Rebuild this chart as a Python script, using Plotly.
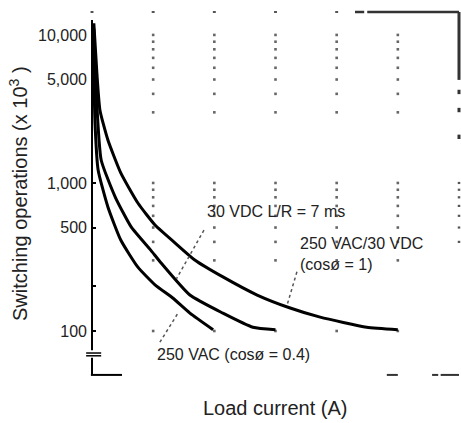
import math
import plotly.graph_objects as go

# ---------------- data ----------------
current_cos1 = [0.03, 0.08, 0.13, 0.26, 0.47, 0.75, 1.03, 1.36, 1.68, 2.14, 2.70, 3.24, 3.73, 4.49, 5.0]
ops_cos1 = [12000, 5500, 3100, 1950, 1170, 732, 520, 393, 302, 232, 175, 143, 124, 106, 102]

current_dc = [0.03, 0.07, 0.15, 0.38, 0.64, 0.96, 1.13, 1.60, 2.14, 2.63, 3.0]
ops_dc = [11000, 4000, 1430, 803, 505, 352, 288, 175, 132, 106, 102]

current_ac04 = [0.02, 0.05, 0.10, 0.26, 0.47, 0.75, 1.03, 1.32, 1.60, 1.98]
ops_ac04 = [9000, 2500, 1225, 689, 412, 270, 205, 167, 132, 102]

y_tick_vals = [100, 500, 1000, 5000, 10000]
y_tick_text = ["100", "500", "1,000", "5,000", "10,000"]
y_minor_vals = [200]

grid_cols = [1, 2, 3, 4, 5]
grid_rows = [10000, 9000, 8000, 7000, 6000, 5000, 4000, 3000,
             1000, 900, 800, 700, 600, 500, 400, 300, 100]

X_MIN, X_MAX = 0, 6
Y_MIN, Y_MAX = 1.696, 4.155

FONT = "Arial, Liberation Sans, sans-serif"
TXT = "#222222"


def xp(a):
    return (a - X_MIN) / (X_MAX - X_MIN)


def yp(v):
    return (math.log10(v) - Y_MIN) / (Y_MAX - Y_MIN)


fig = go.Figure()

# grid intersection dots (degraded dotted grid)
gx, gy = [], []
for c in grid_cols:
    for r in grid_rows:
        gx.append(c)
        gy.append(r)
fig.add_trace(go.Scatter(x=gx, y=gy, mode="markers",
                         marker=dict(symbol="square", size=2.6, color="#666666"),
                         hoverinfo="skip", showlegend=False, cliponaxis=False))

for xs, ys in [(current_cos1, ops_cos1), (current_dc, ops_dc), (current_ac04, ops_ac04)]:
    fig.add_trace(go.Scatter(x=xs, y=ys, mode="lines",
                             line=dict(color="black", width=3, shape="spline", smoothing=0.5),
                             hoverinfo="skip", showlegend=False))

shapes = []
line_k = dict(color="black", width=2)


def seg(x0, y0, x1, y1, **kw):
    d = dict(type="line", xref="paper", yref="paper", x0=x0, y0=y0, x1=x1, y1=y1,
             line=kw.get("line", line_k), layer="above")
    shapes.append(d)


# left axis with break
seg(xp(0), yp(12600), xp(0), yp(74))
seg(-0.016, yp(71), xp(0.15), yp(71), line=dict(color="black", width=1.5))
seg(-0.016, yp(68), xp(0.15), yp(68), line=dict(color="black", width=1.5))
seg(xp(0), yp(66), xp(0), yp(50.5))
seg(xp(0) - 0.003, yp(50.5), xp(0.49), yp(50.5))

# top-right border
top = yp(10 ** Y_MAX)
for c in [0, 1, 2, 3, 4]:
    seg(xp(c) - 0.004, top, xp(c) + 0.004, top, line=dict(color="#555555", width=2))
seg(xp(4.3), top, xp(4.45), top, line=dict(color="#333333", width=2.5))
seg(xp(4.5), top, xp(6), top, line=dict(color="#333333", width=2.5))
seg(xp(6), top, xp(6), yp(4970), line=dict(color="#333333", width=3))
for v in [4120, 3110, 2050]:
    seg(xp(6), yp(v) + 0.006, xp(6), yp(v) - 0.006, line=dict(color="#333333", width=3))
for v in [1000, 900, 800, 700, 600, 500, 400]:
    seg(xp(6), yp(v) + 0.003, xp(6), yp(v) - 0.003, line=dict(color="#555555", width=2.5))
# bottom-right dashes
seg(xp(4.82), yp(50.5), xp(5.0), yp(50.5), line=dict(color="#333333", width=2))
seg(xp(5.56), yp(50.5), xp(5.66), yp(50.5), line=dict(color="#333333", width=2))
seg(xp(5.7), yp(50.5), xp(6.0), yp(50.5), line=dict(color="#333333", width=2))

# dotted leader lines
lead = dict(color="#555555", width=1.5, dash="dot")
seg(xp(1.83), yp(480), xp(1.38), yp(225), line=lead)
seg(xp(3.35), yp(251), xp(3.19), yp(150), line=lead)
seg(xp(1.11), yp(84), xp(1.42), yp(135), line=lead)

annotations = [
    dict(text="30 VDC L/R = 7 ms", x=1.85, y=math.log10(637), xref="x", yref="y",
         xanchor="left", yanchor="middle", showarrow=False,
         font=dict(family=FONT, size=16, color=TXT)),
    dict(text="250 VAC/30 VDC<br>(cosø = 1)", x=3.36, y=math.log10(331), xref="x", yref="y",
         xanchor="left", yanchor="middle", align="left", showarrow=False,
         font=dict(family=FONT, size=16, color=TXT)),
    dict(text="250 VAC (cosø = 0.4)", x=1.03, y=math.log10(69), xref="x", yref="y",
         xanchor="left", yanchor="middle", showarrow=False,
         font=dict(family=FONT, size=16, color=TXT)),
    dict(text="Load current (A)", x=0.5, y=(376 - 408) / 364, xref="paper", yref="paper",
         xanchor="center", yanchor="middle", showarrow=False,
         font=dict(family=FONT, size=20, color=TXT)),
    dict(text="Switching operations (x 10<sup>3</sup> )", x=(18 - 92) / 367, y=0.5,
         xref="paper", yref="paper", textangle=-90,
         xanchor="center", yanchor="middle", showarrow=False,
         font=dict(family=FONT, size=20, color=TXT)),
]

fig.update_layout(
    width=461, height=423,
    margin=dict(l=92, r=2, t=12, b=47),
    paper_bgcolor="white", plot_bgcolor="white",
    showlegend=False,
    shapes=shapes,
    annotations=annotations,
    xaxis=dict(range=[X_MIN, X_MAX], showticklabels=False, ticks="", showgrid=False,
               zeroline=False, showline=False, fixedrange=True),
    yaxis=dict(type="log", range=[Y_MIN, Y_MAX], tickvals=y_tick_vals, ticktext=y_tick_text,
               ticks="inside", ticklen=4, tickcolor="black", tickwidth=1.5,
               minor=dict(tickvals=y_minor_vals, ticks="inside", ticklen=4,
                          tickcolor="black", tickwidth=1.5, showgrid=False),
               showgrid=False, zeroline=False, showline=False, fixedrange=True,
               tickfont=dict(family=FONT, size=16, color=TXT), ticklabelstandoff=4),
)

fig.write_html("out.html", config={"displayModeBar": False},
               post_script="document.body.style.margin='0';document.body.style.padding='0';")
